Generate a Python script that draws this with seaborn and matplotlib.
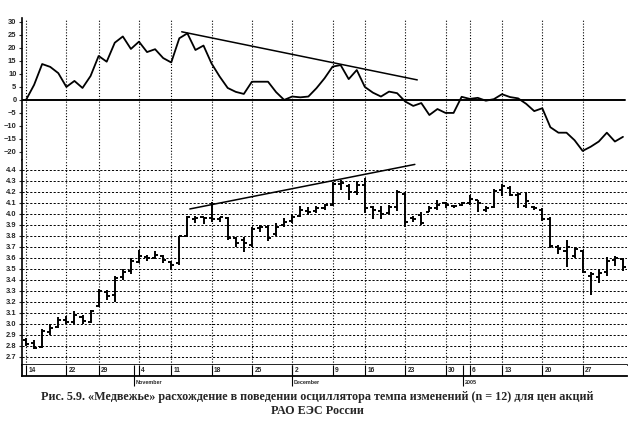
import numpy as np
import matplotlib
matplotlib.use("Agg")
import matplotlib.pyplot as plt
import seaborn as sns

# --- Осциллятор темпа изменений (n = 12), по торговым дням ---
roc = [0, 5.8, 13.8, 12.7, 10.3, 5, 7.3, 4.6, 9.2, 16.9,
       14.7, 22, 24.4, 19.6, 22.4, 18.4, 19.5, 16.1, 14.4, 23.7,
       25.6, 19.2, 20.9, 14, 9, 4.6, 3.1, 2.3, 7, 7,
       7, 3, 0, 1.3, 1, 1.3, 4.5, 8.3, 12.8, 13.4,
       8, 11.5, 5, 2.8, 1.3, 3.2, 2.6, -0.6, -2.3, -1.2,
       -5.8, -3.5, -5, -5, 1.2, 0.4, 0.8, -0.3, 0.3, 2.2,
       1.1, 0.6, -1.5, -4.3, -3.2, -10.5, -12.6, -12.6, -15.5, -19.6,
       -18, -16, -12.6, -16, -14.2]

# --- Цены акций РАО ЕЭС (OHLC) ---
opens = [2.85, 2.83, 2.79, 2.93, 2.97, 3.04, 3.02, 3.06, 3.02, 3.16,
         3.29, 3.26, 3.43, 3.48, 3.56, 3.61, 3.60, 3.62, 3.56, 3.55,
         3.80, 3.95, 3.97, 3.96, 3.95, 3.96, 3.78, 3.76, 3.72, 3.87,
         3.88, 3.82, 3.90, 3.94, 3.98, 4.03, 4.03, 4.05, 4.08, 4.27,
         4.25, 4.20, 4.26, 4.06, 4.03, 4.01, 4.06, 4.18, 3.96, 3.99,
         4.02, 4.05, 4.10, 4.07, 4.08, 4.10, 4.13, 4.04, 4.06, 4.22,
         4.24, 4.17, 4.07, 4.06, 4.04, 3.95, 3.70, 3.66, 3.62, 3.66,
         3.44, 3.43, 3.47, 3.58, 3.59]
highs = [2.87, 2.85, 2.95, 3.00, 3.06, 3.07, 3.12, 3.08, 3.13, 3.32,
         3.31, 3.44, 3.50, 3.60, 3.67, 3.63, 3.66, 3.63, 3.57, 3.80,
         3.98, 3.98, 3.97, 4.11, 3.97, 3.97, 3.79, 3.79, 3.88, 3.90,
         3.90, 3.92, 3.96, 4.00, 4.07, 4.06, 4.07, 4.09, 4.29, 4.31,
         4.27, 4.30, 4.33, 4.07, 4.07, 4.08, 4.22, 4.20, 3.98, 4.02,
         4.07, 4.13, 4.11, 4.08, 4.11, 4.17, 4.13, 4.07, 4.23, 4.27,
         4.25, 4.19, 4.20, 4.07, 4.05, 3.97, 3.72, 3.76, 3.70, 3.67,
         3.47, 3.50, 3.61, 3.62, 3.60]
lows = [2.80, 2.77, 2.78, 2.90, 2.96, 3.00, 3.00, 3.00, 3.01, 3.15,
        3.22, 3.20, 3.40, 3.45, 3.55, 3.57, 3.59, 3.55, 3.49, 3.54,
        3.79, 3.92, 3.91, 3.93, 3.93, 3.76, 3.70, 3.65, 3.70, 3.84,
        3.75, 3.80, 3.88, 3.92, 3.97, 3.99, 4.01, 4.04, 4.07, 4.22,
        4.13, 4.17, 4.01, 3.95, 3.95, 4.00, 4.03, 3.88, 3.93, 3.90,
        4.02, 4.04, 4.05, 4.05, 4.07, 4.08, 4.02, 4.02, 4.05, 4.16,
        4.16, 4.05, 4.05, 4.04, 3.94, 3.69, 3.64, 3.52, 3.60, 3.46,
        3.26, 3.37, 3.44, 3.53, 3.48]
closes = [2.82, 2.78, 2.94, 2.96, 3.04, 3.02, 3.08, 3.03, 3.12, 3.30,
          3.25, 3.42, 3.47, 3.57, 3.62, 3.60, 3.63, 3.58, 3.54, 3.80,
          3.97, 3.96, 3.96, 3.95, 3.97, 3.78, 3.74, 3.74, 3.86, 3.88,
          3.78, 3.88, 3.93, 3.97, 4.04, 4.02, 4.05, 4.08, 4.27, 4.28,
          4.20, 4.26, 4.05, 4.04, 4.00, 4.06, 4.20, 3.93, 3.95, 3.92,
          4.05, 4.08, 4.08, 4.07, 4.10, 4.14, 4.10, 4.05, 4.21, 4.25,
          4.17, 4.18, 4.12, 4.05, 3.95, 3.71, 3.68, 3.70, 3.68, 3.47,
          3.45, 3.46, 3.57, 3.60, 3.52]

# --- Недельная разметка оси дат ---
week_pos = [0, 5, 9, 14, 18, 23, 28, 33, 38, 42, 47, 52, 55, 59, 64, 69]
week_labels = ["14", "22", "29", "4", "11", "18", "25", "2", "9", "16",
               "23", "30", "6", "13", "20", "27"]
month_pos = [13.4, 33, 54.2]
month_labels = ["November", "December", "2005"]

# --- Линии тренда (дивергенция) ---
osc_trend_x, osc_trend_y = [19.3, 48.5], [26.2, 7.7]
price_trend_x, price_trend_y = [20.3, 48.2], [4.045, 4.45]

sns.set_theme(style="white")
plt.rcParams['font.family'] = ['Liberation Sans', 'DejaVu Sans']

idx = np.arange(len(roc))
W_PX, H_PX = 635, 421
fig = plt.figure(figsize=(W_PX / 100, H_PX / 100), dpi=100)
left, width = 22 / W_PX, (627 - 22) / W_PX
ax1 = fig.add_axes([left, 1 - 160 / H_PX, width, (160 - 18) / H_PX])
ax2 = fig.add_axes([left, 1 - 365 / H_PX, width, (365 - 160) / H_PX])
ax3 = fig.add_axes([left, 1 - 376 / H_PX, width, 11 / H_PX])

xlim = (-0.5, 74.5)
dots = (0, (1, 1.6))
dashes = (0, (2.2, 1.8))

# --- Верхняя панель: осциллятор ---
sns.lineplot(x=idx, y=roc, ax=ax1, color="black", linewidth=1.3)
ax1.plot([xlim[0], 74.2], [0, 0], color="black", linewidth=1.4)
ax1.plot(osc_trend_x, osc_trend_y, color="black", linewidth=1.1)
for g in week_pos:
    ax1.axvline(g, ymax=0.985, color="black", linestyle=dots, linewidth=0.8)
ax1.set_xlim(*xlim)
ax1.set_ylim(-23.1, 31.5)
ax1.set_yticks(range(-20, 31, 5))
ax1.set_xticks([])

# --- Нижняя панель: бары цен ---
ax2.vlines(idx, lows, highs, color="black", linewidth=1.4)
ax2.hlines(opens, idx - 0.38, idx, color="black", linewidth=1.4)
ax2.hlines(closes, idx, idx + 0.38, color="black", linewidth=1.4)
ax2.plot(price_trend_x, price_trend_y, color="black", linewidth=1.1)
price_ticks = np.round(np.arange(2.7, 4.41, 0.1), 1)
ax2.hlines(price_ticks, xlim[0], xlim[1], color="black", linestyle=dashes, linewidth=0.7)
for g in week_pos:
    ax2.axvline(g, color="black", linestyle=dots, linewidth=0.8)
ax2.set_xlim(*xlim)
ax2.set_ylim(2.627, 4.49)
ax2.set_yticks(price_ticks)
ax2.set_yticklabels([f"{t:.1f}" for t in price_ticks])
ax2.set_xticks([])

for ax in (ax1, ax2):
    ax.tick_params(axis="y", length=2.5, width=0.8, pad=1.5, labelsize=5.4, direction="out", left=True)
    for lab in ax.get_yticklabels():
        lab.set_fontweight("bold")
    for s in ("top", "right", "bottom"):
        ax.spines[s].set_visible(False)
    ax.spines["left"].set_linewidth(1.2)
    ax.spines["left"].set_color("black")
ax2.spines["bottom"].set_visible(True)
ax2.spines["bottom"].set_linewidth(1.2)
ax2.spines["bottom"].set_color("black")

# --- Полоса дат ---
ax3.set_xlim(*xlim)
ax3.set_ylim(0, 1)
ax3.set_xticks([])
ax3.set_yticks([])
for s in ("top", "right"):
    ax3.spines[s].set_visible(False)
for s in ("left", "bottom"):
    ax3.spines[s].set_linewidth(1.3)
    ax3.spines[s].set_color("black")
ax3.vlines(week_pos, 0, 1, color="black", linewidth=0.8)
ax3.vlines(month_pos, -0.9, 1, color="black", linewidth=0.8, clip_on=False)
for g, lab in zip(week_pos, week_labels):
    ax3.text(g + 0.3, 0.5, lab, fontsize=4.8, fontweight="bold", ha="left", va="center")
for g, lab in zip(month_pos, month_labels):
    ax3.text(g + 0.2, -0.55, lab, fontsize=3.9, fontweight="bold", ha="left", va="center", clip_on=False)

# --- Подпись рисунка ---
cap1 = ("Рис. 5.9. «Медвежье» расхождение в поведении осциллятора темпа изменений "
        "(n = 12) для цен акций")
cap2 = "РАО ЕЭС России"
fig.text(0.5, 1 - 397 / H_PX, cap1, ha="center", va="center", fontsize=8.7,
         fontweight="bold", family=["Liberation Serif", "DejaVu Serif"])
fig.text(0.5, 1 - 411 / H_PX, cap2, ha="center", va="center", fontsize=8.7,
         fontweight="bold", family=["Liberation Serif", "DejaVu Serif"])

fig.savefig("out.png", dpi=100)
